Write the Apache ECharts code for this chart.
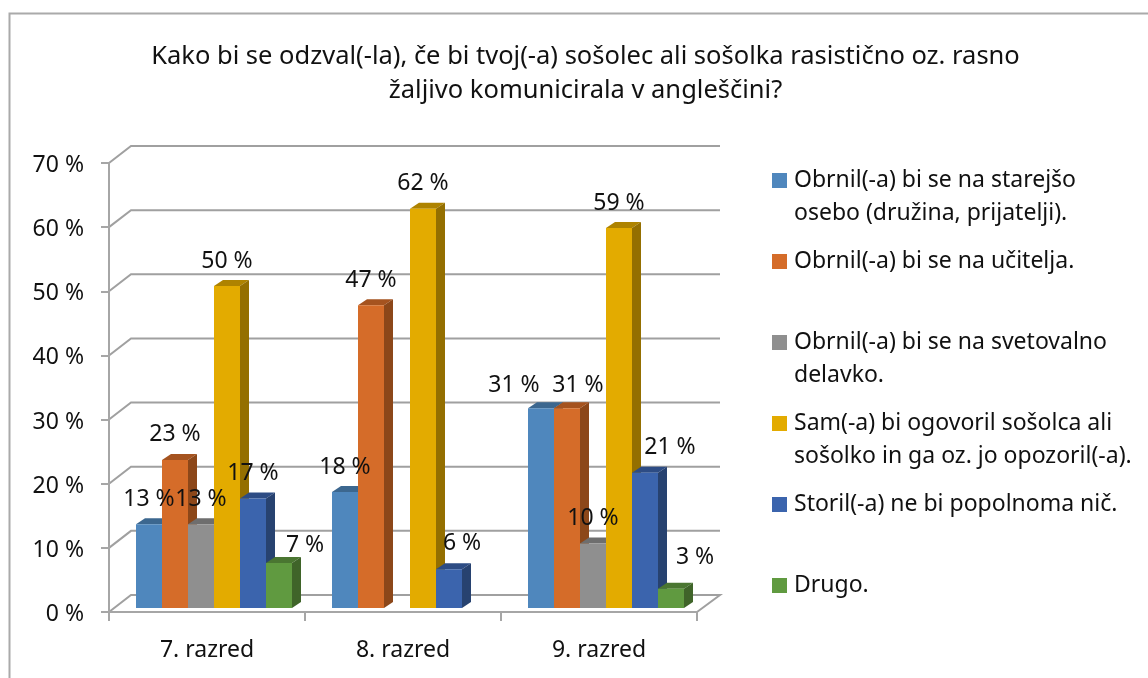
<!DOCTYPE html>
<html><head><meta charset="utf-8"><style>html,body{margin:0;padding:0;background:#fff}#c{width:1148px;height:678px}</style>
<script src="https://cdn.jsdelivr.net/npm/echarts@6/dist/echarts.min.js"></script></head>
<body><div id="c"></div>
<script>
const titleText = 'Kako bi se odzval(-la), če bi tvoj(-a) sošolec ali sošolka rasistično oz. rasno\nžaljivo komunicirala v angleščini?';
const categories = ['7. razred', '8. razred', '9. razred'];
const yTicks = [0, 10, 20, 30, 40, 50, 60, 70];
const seriesNames = [
  'Obrnil(-a) bi se na starejšo\nosebo (družina, prijatelji).',
  'Obrnil(-a) bi se na učitelja.',
  'Obrnil(-a) bi se na svetovalno\ndelavko.',
  'Sam(-a) bi ogovoril sošolca ali\nsošolko in ga oz. jo opozoril(-a).',
  'Storil(-a) ne bi popolnoma nič.',
  'Drugo.'
];
const starejso   = [13, 18, 31];
const ucitelj    = [23, 47, 31];
const svetovalna = [13, null, 10];
const sam        = [50, 62, 59];
const nic        = [17, 6, 21];
const drugo      = [7, null, 3];
const seriesValues = [starejso, ucitelj, svetovalna, sam, nic, drugo];

const faceColors = ['#4F87BD', '#D56C29', '#8F8F8F', '#E3AB00', '#3B64AD', '#609A40'];
const topColors  = ['#3C678F', '#A5531F', '#6E6E6E', '#AE8300', '#2D4C84', '#4A7631'];
const sideColors = ['#33577A', '#8C4719', '#5E5E5E', '#946F00', '#274270', '#3F6429'];
// data labels that were moved by hand in the original: series:category -> [dx, dy]
const labelNudges = {'0:2': [-27, 2], '1:2': [11, 2], '4:1': [13, -1], '4:2': [25, 0], '5:0': [26, 8], '5:2': [24, -6]};

const AXIS = '#A6A6A6', GRID = '#A0A0A0';
const wall = [22, -17], floorFront = [23, -15];
const barW = 26, barDepth = [9, -6];
const font = '"Noto Sans","Open Sans",sans-serif';

function gridItem(params, api) {
  const p = api.coord([0, api.value(0)]);
  const right = api.coord([categories.length - 1, api.value(0)]);
  const bandW = api.size([1, 0])[0];
  const x0 = p[0] - bandW / 2, x1 = right[0] + bandW / 2, y = p[1];
  const pts = [[x0, y], [x0 + wall[0], y + wall[1]], [x1 + floorFront[0], y + wall[1]]];
  if (api.value(0) === 0) pts.push([x1, y]);
  return {type: 'polyline', shape: {points: pts}, z2: 0, style: {fill: null, stroke: GRID, lineWidth: 2}};
}

function barSeries(si) {
  const n = seriesNames.length;
  return {
    type: 'custom', name: seriesNames[si], xAxisIndex: 1, yAxisIndex: 1, clip: false,
    itemStyle: {color: faceColors[si]},
    encode: {x: 0, y: 1},
    data: categories.map((c, i) => [i, seriesValues[si][i]]),
    renderItem(params, api) {
      const v = api.value(1);
      if (v == null || isNaN(v)) return {type: 'group', children: []};
      const ci = api.value(0);
      const topPt = api.coord([ci, v]), basePt = api.coord([ci, 0]);
      const x = topPt[0] + (si - n / 2) * barW, y = topPt[1], b = basePt[1];
      const dx = barDepth[0], dy = barDepth[1];
      const nudge = labelNudges[si + ':' + ci] || [0, 0];
      const z = 10 + si;
      return {type: 'group', children: [
        {type: 'polygon', z2: z, shape: {points: [[x, y], [x + barW, y], [x + barW + dx, y + dy], [x + dx, y + dy]]}, style: {fill: topColors[si]}},
        {type: 'polygon', z2: z, shape: {points: [[x + barW, y], [x + barW + dx, y + dy], [x + barW + dx, b + dy], [x + barW, b]]}, style: {fill: sideColors[si]}},
        {type: 'rect', z2: z, shape: {x: x, y: y, width: barW, height: b - y}, style: {fill: faceColors[si]}},
        {type: 'text', z2: 100, style: {text: v + ' %', x: x + barW / 2 + nudge[0], y: y - 25 + nudge[1], align: 'center', verticalAlign: 'middle', font: '23px ' + font, fill: '#111'}}
      ]};
    }
  };
}

const option = {
  animation: false,
  backgroundColor: '#fff',
  title: {text: titleText, left: 585.5, top: 40, textAlign: 'center', padding: 0,
    textStyle: {fontFamily: font, fontSize: 25.5, fontWeight: 'normal', color: '#111', lineHeight: 34}},
  legend: {
    orient: 'vertical', left: 772, top: 131, padding: 0, itemWidth: 15, itemHeight: 15, itemGap: -18,
    icon: 'rect', selectedMode: false,
    data: seriesNames,
    formatter(name) {
      const lines = name.split('\n');
      return ['\u00a0', lines[0], lines[1] || '\u00a0'].map(s => '{a|' + s + '}').join('\n');
    },
    textStyle: {fontFamily: font, fontSize: 23, color: '#111', lineHeight: 33,
      rich: {a: {fontFamily: font, fontSize: 23, color: '#111', lineHeight: 33, padding: [0, 0, 0, 2]}}}
  },
  graphic: [{type: 'polyline', shape: {points: [[9.5, 678], [9.5, 13.5], [1148, 13.5]]}, style: {fill: null, stroke: '#AAAAAA', lineWidth: 2}}],
  grid: [
    {left: 109, top: 163, width: 588, height: 449},
    {left: 116, top: 157.2, width: 588, height: 450.8}
  ],
  xAxis: [
    {type: 'category', gridIndex: 0, data: categories, z: 5,
      axisLine: {lineStyle: {color: AXIS, width: 2}},
      axisTick: {show: true, alignWithLabel: false, length: 9, lineStyle: {color: AXIS, width: 2}},
      axisLabel: {fontFamily: font, fontSize: 23, color: '#111', margin: 27}},
    {type: 'category', gridIndex: 1, data: categories, show: false}
  ],
  yAxis: [
    {type: 'value', gridIndex: 0, min: 0, max: 70, interval: 10, z: 5,
      splitLine: {show: false},
      axisLine: {show: true, lineStyle: {color: AXIS, width: 2}},
      axisTick: {show: true, length: 8, lineStyle: {color: AXIS, width: 2}},
      axisLabel: {margin: 25, formatter: '{a|{value} %}',
        rich: {a: {fontFamily: font, fontSize: 23, color: '#111', padding: [5, 0, 0, 0]}}}},
    {type: 'value', gridIndex: 1, min: 0, max: 70, interval: 10, show: false}
  ],
  series: [
    {type: 'custom', name: 'grid', xAxisIndex: 0, yAxisIndex: 0, clip: false, silent: true, z: 1,
      encode: {y: 0}, data: yTicks.map(t => [t]), renderItem: gridItem},
    ...seriesNames.map((_, i) => barSeries(i))
  ]
};
const chart = echarts.init(document.getElementById('c'), null, {renderer: 'canvas'});
chart.setOption(option);
</script></body></html>
